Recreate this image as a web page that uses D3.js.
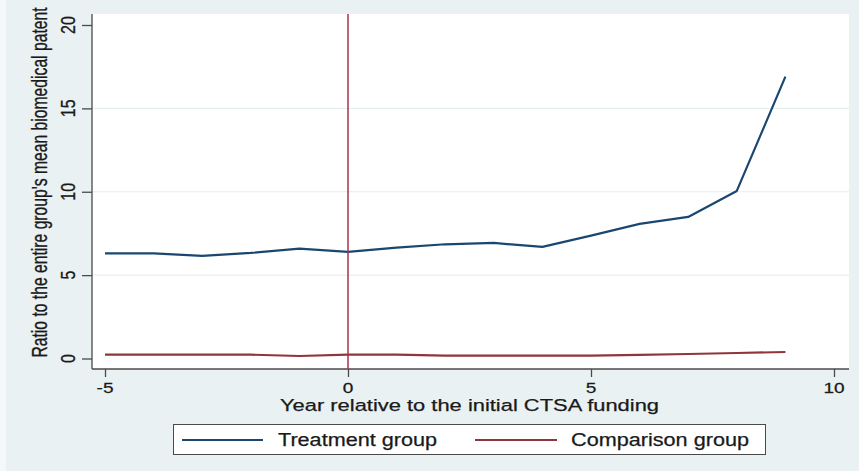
<!DOCTYPE html>
<html>
<head>
<meta charset="utf-8">
<script src="https://cdn.jsdelivr.net/npm/d3@7"></script>
<style>
  html, body { margin: 0; padding: 0; background: #eaf1f3; }
  svg { display: block; }
  text { font-family: "Liberation Sans", Arial, sans-serif; fill: #1a1a1a; stroke: #1a1a1a; stroke-width: 0.25px; }
</style>
</head>
<body>
<svg id="chart" width="859" height="471"></svg>
<script>
// Years relative to the initial CTSA funding
const years = [-5, -4, -3, -2, -1, 0, 1, 2, 3, 4, 5, 6, 7, 8, 9];
// Ratio to the entire group's mean biomedical patent count
const treatment = [6.31, 6.31, 6.15, 6.33, 6.59, 6.39, 6.65, 6.85, 6.93, 6.69, 7.37, 8.07, 8.49, 10.05, 16.9];
const comparison = [0.23, 0.23, 0.23, 0.23, 0.15, 0.23, 0.23, 0.17, 0.17, 0.17, 0.17, 0.22, 0.27, 0.33, 0.39];
const xTicks = [-5, 0, 5, 10];
const yTicks = [0, 5, 10, 15, 20];
const gridTicks = [5, 10, 15];
const eventYear = 0;
const seriesNames = ["Treatment group", "Comparison group"];
const xTitle = "Year relative to the initial CTSA funding";
const yTitle = "Ratio to the entire group's mean biomedical patent";

const colors = { treatment: "#1a476f", comparison: "#90353b", event: "#a8304a" };
const SX = 1.27; // horizontal widening applied to the lettering

const svg = d3.select("#chart");

// background and left border strip
svg.append("rect").attr("width", 859).attr("height", 471).attr("fill", "#eaf1f3");
svg.append("rect").attr("width", 6).attr("height", 471).attr("fill", "#f4f8f9");

const plot = { left: 92, right: 849, top: 14, bottom: 369 };

const x = d3.scaleLinear().domain([-5, 10]).range([105, 834]);
const y = d3.scaleLinear().domain([0, 20]).range([358.5, 25]);

// plot region
svg.append("rect")
  .attr("x", plot.left).attr("y", plot.top)
  .attr("width", plot.right - plot.left).attr("height", plot.bottom - plot.top)
  .attr("fill", "#ffffff");

// horizontal grid lines
svg.append("g").selectAll("line").data(gridTicks).join("line")
  .attr("x1", plot.left).attr("x2", plot.right)
  .attr("y1", d => y(d)).attr("y2", d => y(d))
  .attr("stroke", "#e3ecef").attr("stroke-width", 1);

// y axis
const yAxis = svg.append("g")
  .attr("transform", `translate(${plot.left},0)`)
  .call(d3.axisLeft(y).tickValues(yTicks).tickSize(10).tickFormat(""));
yAxis.select(".domain").attr("d", `M0,${plot.top}V${plot.bottom}`).attr("stroke", "#4a4a4a").attr("stroke-width", 1.3);
yAxis.selectAll(".tick line").attr("stroke", "#4a4a4a").attr("stroke-width", 1.3);

svg.append("g").selectAll("text").data(yTicks).join("text")
  .attr("transform", d => `translate(74.5,${y(d)}) scale(${SX},1) rotate(-90)`)
  .attr("text-anchor", "middle")
  .attr("font-size", 16)
  .text(d => d);

// x axis
const xAxis = svg.append("g")
  .attr("transform", `translate(0,${plot.bottom})`)
  .call(d3.axisBottom(x).tickValues(xTicks).tickSize(8).tickFormat(""));
xAxis.select(".domain").attr("d", `M${plot.left},0H${plot.right}`).attr("stroke", "#4a4a4a").attr("stroke-width", 1.3);
xAxis.selectAll(".tick line").attr("stroke", "#4a4a4a").attr("stroke-width", 1.3);

svg.append("g").selectAll("text").data(xTicks).join("text")
  .attr("transform", d => `translate(${x(d)},392.5) scale(${SX},1)`)
  .attr("text-anchor", "middle")
  .attr("font-size", 15)
  .text(d => d);

// axis titles
svg.append("text")
  .attr("x", 469.5).attr("y", 411)
  .attr("text-anchor", "middle")
  .attr("font-size", 16.8)
  .attr("textLength", 379).attr("lengthAdjust", "spacingAndGlyphs")
  .text(xTitle);

svg.append("text")
  .attr("transform", `translate(47,182.5) scale(1.35,1) rotate(-90)`)
  .attr("text-anchor", "middle")
  .attr("font-size", 15.7)
  .text(yTitle);

// series lines
const line = d3.line().x((d, i) => x(years[i])).y(d => y(d));

svg.append("path").datum(comparison)
  .attr("d", line).attr("fill", "none")
  .attr("stroke", colors.comparison).attr("stroke-width", 2.2).attr("stroke-linejoin", "round");

svg.append("path").datum(treatment)
  .attr("d", line).attr("fill", "none")
  .attr("stroke", colors.treatment).attr("stroke-width", 2.2).attr("stroke-linejoin", "round");

// reference line at the funding year
svg.append("line")
  .attr("x1", x(eventYear)).attr("x2", x(eventYear))
  .attr("y1", plot.top).attr("y2", plot.bottom)
  .attr("stroke", colors.event).attr("stroke-width", 1.5);

// legend
const legend = svg.append("g");
legend.append("rect")
  .attr("x", 173.5).attr("y", 424.5).attr("width", 592).attr("height", 30)
  .attr("fill", "#ffffff").attr("stroke", "#4a4a4a").attr("stroke-width", 1);

const legendItems = [
  { name: seriesNames[0], color: colors.treatment, x1: 182, x2: 263, tx: 278, tw: 159 },
  { name: seriesNames[1], color: colors.comparison, x1: 475, x2: 557, tx: 571, tw: 178 }
];
legendItems.forEach(it => {
  legend.append("line")
    .attr("x1", it.x1).attr("x2", it.x2).attr("y1", 440).attr("y2", 440)
    .attr("stroke", it.color).attr("stroke-width", 2);
  legend.append("text")
    .attr("x", it.tx).attr("y", 446)
    .attr("font-size", 17.5)
    .attr("textLength", it.tw).attr("lengthAdjust", "spacingAndGlyphs")
    .text(it.name);
});
</script>
</body>
</html>
